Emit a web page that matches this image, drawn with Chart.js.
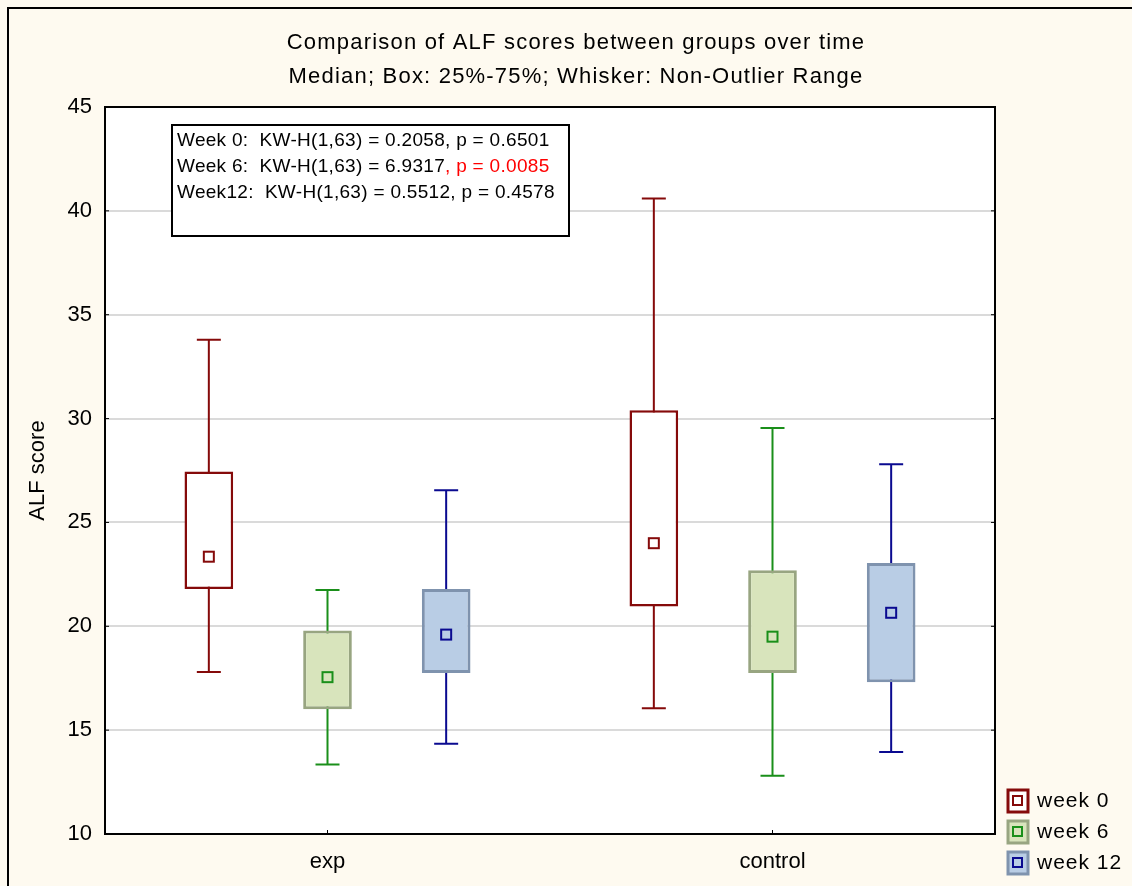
<!DOCTYPE html>
<html>
<head>
<meta charset="utf-8">
<script src="https://cdn.jsdelivr.net/npm/chart.js@4"></script>
<style>
  body { margin: 0; background: #fefaf0; }
  canvas { display: block; }
</style>
</head>
<body>
<canvas id="myChart" width="1132" height="886"></canvas>
<script>
var groups = ["exp", "control"];
var seriesNames = ["week 0", "week 6", "week 12"];
var yTicks = [10, 15, 20, 25, 30, 35, 40, 45];

// one row per series (week 0, week 6, week 12), one column per group (exp, control)
var whiskerLow  = [[17.8, 16.05], [13.35, 12.8], [14.35, 13.95]];
var boxLow      = [[21.8, 20.95], [16.0, 17.75], [17.75, 17.3]];
var medians     = [[23.35, 24.0], [17.55, 19.5], [19.6, 20.65]];
var boxHigh     = [[27.45, 30.4], [19.8, 22.7], [21.8, 23.05]];
var whiskerHigh = [[33.8, 40.6], [21.75, 29.55], [26.55, 27.8]];

var statLines = [
  [["Week 0:  KW-H(1,63) = 0.2058, p = 0.6501", "#000"]],
  [["Week 6:  KW-H(1,63) = 6.9317", "#000"], [", p = 0.0085", "#ff0000"]],
  [["Week12:  KW-H(1,63) = 0.5512, p = 0.4578", "#000"]]
];

var boxFill = ["#ffffff", "#d8e4bc", "#b9cde5"];
var boxBorder = ["#850a0a", "#98a581", "#7f93ae"];
var lineColor = ["#850a0a", "#1a8f1a", "#0a0a90"];
var boxBorderWidth = [2.5, 3, 3];
var fontName = "'Liberation Sans', Arial, sans-serif";

var boxPlotPlugin = {
  id: "boxplot",
  beforeDraw: function(chart) {
    var ctx = chart.ctx, a = chart.chartArea;
    ctx.save();
    ctx.fillStyle = "#fefaf0";
    ctx.fillRect(0, 0, chart.width, chart.height);
    ctx.fillStyle = "#ffffff";
    ctx.fillRect(a.left, a.top, a.right - a.left, a.bottom - a.top);
    ctx.strokeStyle = "#000";
    ctx.lineWidth = 2;
    ctx.strokeRect(8, 8, 1300, 1100);
    ctx.restore();
  },
  beforeDatasetsDraw: function(chart) {
    var ctx = chart.ctx, y = chart.scales.y;
    ctx.save();
    chart.data.datasets.forEach(function(ds, d) {
      chart.getDatasetMeta(d).data.forEach(function(bar, i) {
        var top = y.getPixelForValue(whiskerHigh[d][i]);
        var bot = y.getPixelForValue(whiskerLow[d][i]);
        ctx.strokeStyle = lineColor[d];
        ctx.lineWidth = 2;
        ctx.beginPath();
        ctx.moveTo(bar.x, top); ctx.lineTo(bar.x, bot);
        ctx.moveTo(bar.x - 12, top); ctx.lineTo(bar.x + 12, top);
        ctx.moveTo(bar.x - 12, bot); ctx.lineTo(bar.x + 12, bot);
        ctx.stroke();
      });
    });
    ctx.restore();
  },
  afterDatasetsDraw: function(chart) {
    var ctx = chart.ctx, y = chart.scales.y, x = chart.scales.x, a = chart.chartArea;
    ctx.save();
    chart.data.datasets.forEach(function(ds, d) {
      chart.getDatasetMeta(d).data.forEach(function(bar, i) {
        var my = y.getPixelForValue(medians[d][i]);
        ctx.strokeStyle = lineColor[d];
        ctx.lineWidth = 2;
        ctx.strokeRect(bar.x - 5, my - 5, 10, 10);
      });
    });
    // plot frame and small inward ticks
    ctx.strokeStyle = "#000";
    ctx.lineWidth = 2;
    ctx.strokeRect(a.left, a.top, a.right - a.left, a.bottom - a.top);
    ctx.lineWidth = 1;
    ctx.beginPath();
    yTicks.forEach(function(t) {
      var py = y.getPixelForValue(t);
      ctx.moveTo(a.left, py); ctx.lineTo(a.left + 4, py);
      ctx.moveTo(a.right, py); ctx.lineTo(a.right - 4, py);
    });
    groups.forEach(function(g, i) {
      var px = x.getPixelForValue(i);
      ctx.moveTo(px, a.bottom); ctx.lineTo(px, a.bottom - 4);
    });
    ctx.stroke();

    // title
    ctx.fillStyle = "#000";
    ctx.font = "22px " + fontName;
    ctx.letterSpacing = "1.2px";
    ctx.textAlign = "center";
    ctx.textBaseline = "middle";
    ctx.fillText("Comparison of ALF scores between groups over time", 576, 43);
    ctx.fillText("Median; Box: 25%-75%; Whisker: Non-Outlier Range", 576, 77);

    // statistics box
    ctx.fillStyle = "#fff";
    ctx.fillRect(172, 125, 397, 111);
    ctx.lineWidth = 2;
    ctx.strokeRect(172, 125, 397, 111);
    ctx.font = "19px " + fontName;
    ctx.letterSpacing = "0.3px";
    ctx.textAlign = "left";
    statLines.forEach(function(parts, k) {
      var tx = 177;
      parts.forEach(function(p) {
        ctx.fillStyle = p[1];
        ctx.fillText(p[0], tx, 141 + k * 26);
        tx += ctx.measureText(p[0]).width;
      });
    });

    // legend
    ctx.font = "21px " + fontName;
    ctx.letterSpacing = "1px";
    seriesNames.forEach(function(name, d) {
      var cy = 801 + d * 31;
      ctx.fillStyle = boxFill[d];
      ctx.fillRect(1008, cy - 11, 20, 22);
      ctx.strokeStyle = boxBorder[d];
      ctx.lineWidth = 3;
      ctx.strokeRect(1008, cy - 11, 20, 22);
      ctx.strokeStyle = lineColor[d];
      ctx.lineWidth = 2;
      ctx.strokeRect(1013, cy - 5, 9, 9);
      ctx.fillStyle = "#000";
      ctx.fillText(name, 1037, cy);
    });
    ctx.restore();
  }
};

var datasets = seriesNames.map(function(name, d) {
  return {
    label: name,
    data: boxLow[d].map(function(v, i) { return [v, boxHigh[d][i]]; }),
    backgroundColor: boxFill[d],
    borderColor: boxBorder[d],
    borderWidth: boxBorderWidth[d],
    borderSkipped: false,
    categoryPercentage: 0.8,
    barPercentage: 0.41
  };
});

new Chart("myChart", {
  type: "bar",
  data: { labels: groups, datasets: datasets },
  options: {
    responsive: false,
    animation: false,
    devicePixelRatio: 1,
    layout: { padding: { top: 107, right: 137, bottom: 0, left: 21 } },
    plugins: {
      legend: { display: false },
      tooltip: { enabled: false },
      title: { display: false }
    },
    scales: {
      x: {
        grid: { display: false, drawTicks: false },
        border: { display: true, color: "#000", width: 2 },
        ticks: { color: "#000", padding: 15, font: { family: fontName, size: 22 } },
        afterFit: function(s) { s.height = 52; }
      },
      y: {
        min: 10,
        max: 45,
        afterBuildTicks: function(s) { s.ticks = yTicks.map(function(v) { return { value: v }; }); },
        grid: { color: "#dadada", lineWidth: 2, drawTicks: false },
        border: { display: true, color: "#000", width: 2 },
        ticks: { color: "#000", padding: 13, font: { family: fontName, size: 22 } },
        title: { display: true, text: "ALF score", color: "#000", padding: { top: 4, bottom: 0 }, font: { family: fontName, size: 22 } },
        afterFit: function(s) { s.width = 84; }
      }
    }
  },
  plugins: [boxPlotPlugin]
});
</script>
</body>
</html>
